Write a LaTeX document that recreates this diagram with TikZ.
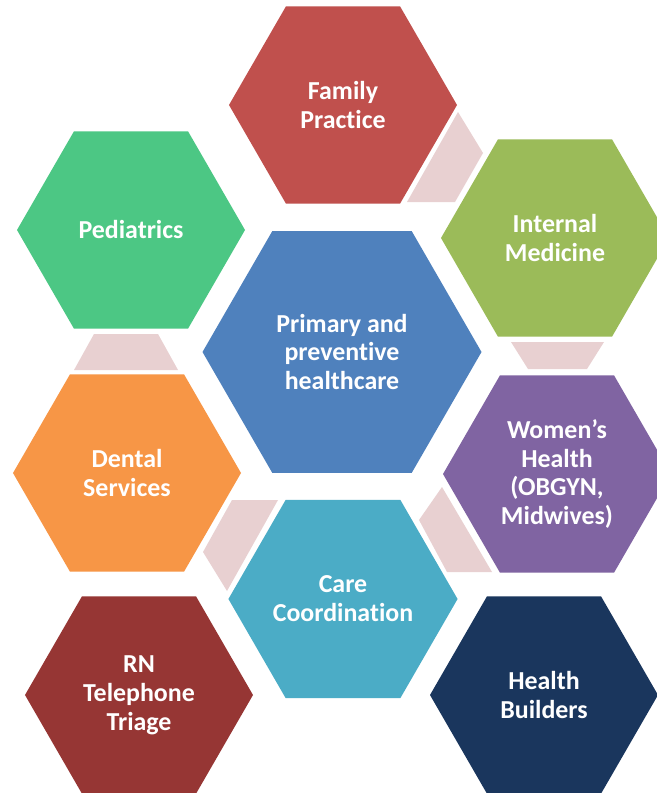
\documentclass[tikz,border=0pt]{standalone}
\usepackage{fontspec}
\setmainfont{Carlito}[Ligatures=NoCommon]
\usetikzlibrary{shapes.geometric}

\definecolor{famred}{HTML}{C0504D}
\definecolor{intgreen}{HTML}{9BBB59}
\definecolor{pedgreen}{HTML}{4CC784}
\definecolor{primblue}{HTML}{4F81BD}
\definecolor{wompurple}{HTML}{8064A2}
\definecolor{dentorange}{HTML}{F79646}
\definecolor{careteal}{HTML}{4BACC6}
\definecolor{rnred}{HTML}{963634}
\definecolor{hbnavy}{HTML}{1A365D}
\definecolor{linkpink}{HTML}{E8D0D1}

\tikzset{
  hexa/.style={regular polygon, regular polygon sides=6, minimum size=228bp,
    inner sep=0pt, text=white, align=center,
    font=\bfseries\fontsize{26}{29}\selectfont},
  link/.style={fill=linkpink}
}

\begin{document}
\begin{tikzpicture}[x=1bp,y=-1bp]
  \clip (0,0) rectangle (657,793);
  \fill[white] (0,0) rectangle (657,793);

  % pink links between the hexagons
  \fill[link] (458,112) -- (483,153) -- (455,202) -- (407,202) -- cycle;
  \fill[link] (94,334) -- (158,334) -- (178,370) -- (74,370) -- cycle;
  \fill[link] (511,342) -- (604,342) -- (587,369) -- (528,369) -- cycle;
  \fill[link] (232,500) -- (278,500) -- (227,591) -- (203,552) -- cycle;
  \fill[link] (442,487) -- (492,572) -- (447,572) -- (419,520) -- cycle;

  % hexagons
  \node[hexa, fill=primblue, minimum size=279bp] (primary) at (342,352) {Primary and\\preventive\\healthcare};
  \node[hexa, fill=famred] (family) at (343,105) {Family\\Practice};
  \node[hexa, fill=intgreen] (internal) at (555,238) {Internal\\Medicine};
  \node[hexa, fill=pedgreen] (pediatrics) at (131,230) {Pediatrics};
  \node[hexa, fill=wompurple] (women) at (557,474) {Women’s\\Health\\(OBGYN,\\Midwives)};
  \node[hexa, fill=dentorange] (dental) at (127,473) {Dental\\Services};
  \node[hexa, fill=careteal] (care) at (343,599) {Care\\Coordination};
  \node[hexa, fill=rnred] (triage) at (139,695) {RN\\Telephone\\Triage};
  \node[hexa, fill=hbnavy] (builders) at (544,695) {Health\\Builders};
\end{tikzpicture}
\end{document}
